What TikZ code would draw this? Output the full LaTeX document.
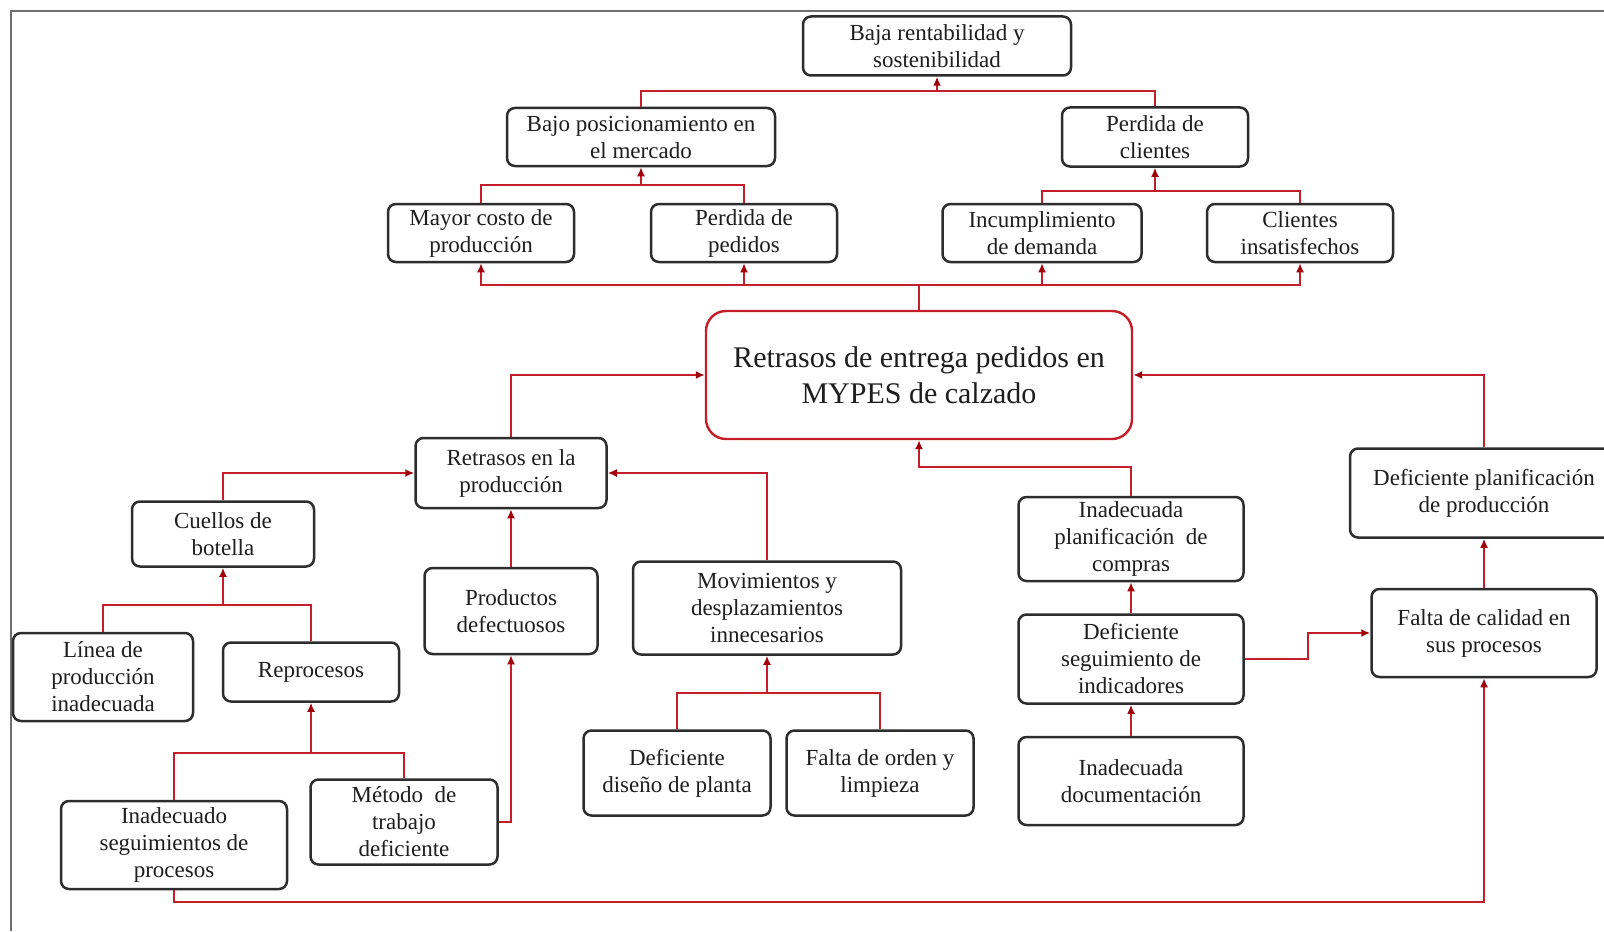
\documentclass[tikz,border=0pt]{standalone}
\usepackage{fontspec}
\setmainfont{Liberation Serif}
\usetikzlibrary{arrows.meta}
\definecolor{linkred}{RGB}{196,30,42}
\definecolor{tipred}{RGB}{160,0,10}
\definecolor{boxedge}{RGB}{45,45,45}
\definecolor{frameg}{RGB}{110,110,110}
\definecolor{txt}{RGB}{30,30,30}
\begin{document}
\begin{tikzpicture}[x=0.5pt,y=-0.5pt,
  box/.style={draw=boxedge, line width=1.25pt, rounded corners=4pt, fill=white,
    align=center, inner sep=0pt, text=txt,
    font=\fontsize{11.5}{13.5}\selectfont},
  sz/.style 2 args={minimum width=#1*0.5pt, minimum height=#2*0.5pt},
  mainbox/.style={draw=linkred, line width=1.2pt, rounded corners=10pt, fill=white,
    align=center, inner sep=0pt, text=txt,
    font=\fontsize{15}{18}\selectfont},
  ln/.style={draw=linkred, line width=1.1pt},
  arr/.style={ln, -{Latex[length=4.5pt,width=4pt,color=tipred]}}]
\useasboundingbox (0,0) rectangle (1604,931);
\clip (0,0) rectangle (1604,931);
\fill[white] (0,0) rectangle (1604,931);
% outer frame
\draw[frameg, line width=1pt] (11,931) -- (11,11) -- (1604,11);

% effects
\node[box, sz={268}{59}] (baja) at (937,46) {Baja rentabilidad y\\sostenibilidad};
\node[box, sz={268}{58}] (bajo) at (641,137) {Bajo posicionamiento en\\el mercado};
\node[box, sz={186}{59}] (pcli) at (1155,137) {Perdida de\\clientes};
\node[box, sz={186}{58}] (mayor) at (481,233) {Mayor costo de\\producción};
\node[box, sz={186}{58}] (pped) at (744,233) {Perdida de\\pedidos};
\node[box, sz={199}{58}] (incum) at (1042,233) {Incumplimiento\\de demanda};
\node[box, sz={186}{58}] (cli) at (1300,233) {Clientes\\insatisfechos};

% central problem
\node[mainbox, sz={426}{128}] (main) at (919,375) {Retrasos de entrega pedidos en\\MYPES de calzado};

% causes
\node[box, sz={191}{70}] (retr) at (511,473) {Retrasos en la\\producción};
\node[box, sz={182}{65}] (cuel) at (223,534) {Cuellos de\\botella};
\node[box, sz={180}{88}] (linea) at (103,677) {Línea de\\producción\\inadecuada};
\node[box, sz={176}{59}] (repro) at (311,672) {Reprocesos};
\node[box, sz={226}{88}] (inseg) at (174,845) {Inadecuado\\seguimientos de\\procesos};
\node[box, sz={187}{85}] (metodo) at (404,822) {Método~~de\\trabajo\\deficiente};
\node[box, sz={173}{86}] (prod) at (511,611) {Productos\\defectuosos};
\node[box, sz={268}{93}] (mov) at (767,608) {Movimientos y\\desplazamientos\\innecesarios};
\node[box, sz={187}{85}] (dise) at (677,773) {Deficiente\\diseño de planta};
\node[box, sz={187}{85}] (orden) at (880,773) {Falta de orden y\\limpieza};
\node[box, sz={225}{84}] (inplan) at (1131,539) {Inadecuada\\planificación~ de\\compras};
\node[box, sz={225}{89}] (defseg) at (1131,659) {Deficiente\\seguimiento de\\indicadores};
\node[box, sz={225}{88}] (indoc) at (1131,781) {Inadecuada\\documentación};
\node[box, sz={268}{89}] (defplan) at (1484,493) {Deficiente planificación\\de producción};
\node[box, sz={225}{88}] (falta) at (1484,633) {Falta de calidad en\\sus procesos};

% junctions of the branching lines
\coordinate (j1) at (937,91);
\coordinate (j2) at (641,185);
\coordinate (j3) at (1155,191);
\coordinate (j4) at (919,285);
\coordinate (j6) at (223,605);
\coordinate (j7) at (311,753);
\coordinate (j8) at (767,693);

% effect tree
\draw[ln] (bajo.north) |- (j1) -| (pcli.north);
\draw[arr] (j1) -- (baja.south);
\draw[ln] (mayor.north) |- (j2) -| (pped.north);
\draw[arr] (j2) -- (bajo.south);
\draw[ln] (incum.north) |- (j3) -| (cli.north);
\draw[arr] (j3) -- (pcli.south);
\draw[ln] (main.north) -- (j4);
\draw[arr] (j4) -| (mayor.south);
\draw[arr] (j4) -| (pped.south);
\draw[arr] (j4) -| (incum.south);
\draw[arr] (j4) -| (cli.south);

% cause tree
\draw[arr] (retr.north) |- (main.west);
\draw[arr] (defplan.north) |- (main.east);
\draw[arr] (inplan.north) -- ++(0,-29) -| (main.south);
\draw[arr] (cuel.north) |- (retr.west);
\draw[arr] (mov.north) |- (retr.east);
\draw[arr] (prod.north) -- (retr.south);
\draw[ln] (linea.north) |- (j6) -| (repro.north);
\draw[arr] (j6) -- (cuel.south);
\draw[ln] (inseg.north) |- (j7) -| (metodo.north);
\draw[arr] (j7) -- (repro.south);
\draw[arr] (metodo.east) -| (prod.south);
\draw[ln] (dise.north) |- (j8) -| (orden.north);
\draw[arr] (j8) -- (mov.south);
\draw[arr] (defseg.north) -- (inplan.south);
\draw[arr] (indoc.north) -- (defseg.south);
\draw[arr] (defseg.east) -- ++(63,0) |- (falta.west);
\draw[arr] (falta.north) -- (defplan.south);
\draw[arr] (inseg.south) -- ++(0,12) -| (falta.south);
\end{tikzpicture}
\end{document}
